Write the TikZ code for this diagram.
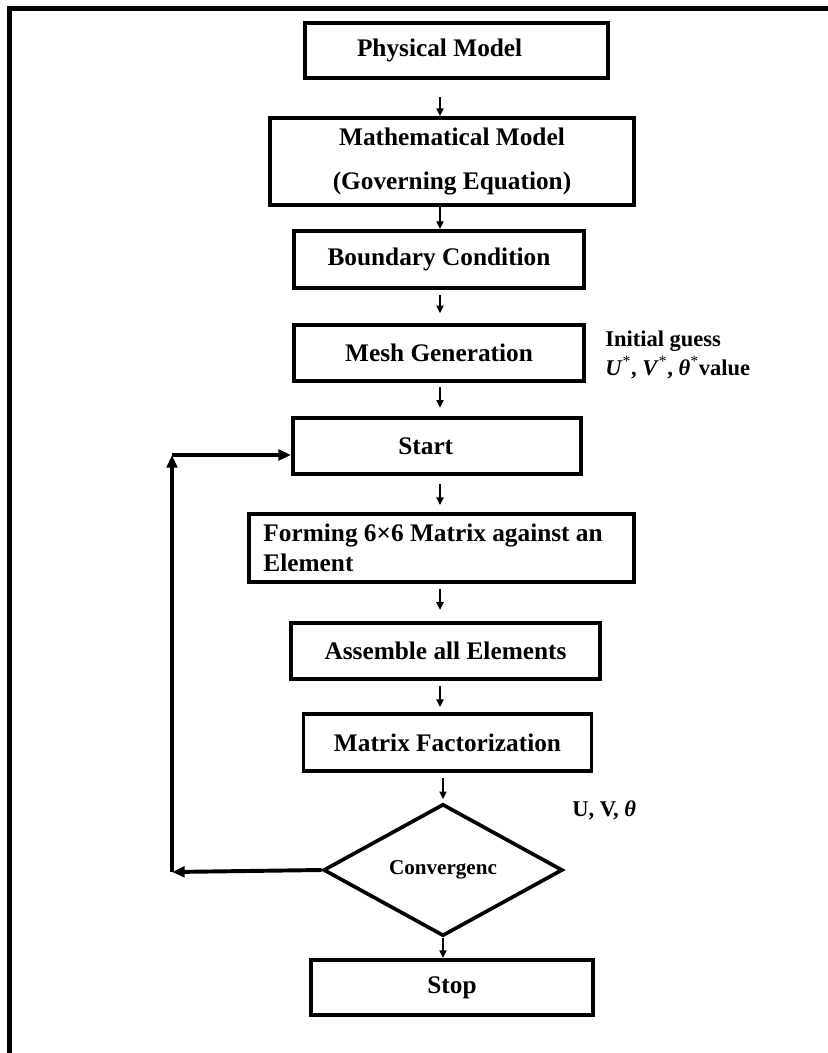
\documentclass[tikz,border=0pt]{standalone}
\usepackage{fontspec}
\setmainfont{Liberation Serif}
\usepackage{tikz}
\usetikzlibrary{arrows.meta,shapes.geometric,positioning}

\begin{document}
\begin{tikzpicture}[x=0.025cm,y=-0.025cm,
  box/.style={draw,line width=2.6pt,inner sep=2pt,font=\bfseries\fontsize{18}{21}\selectfont},
  link/.style={-{Triangle[length=5.5pt,width=5pt]},line width=1.3pt},
  loopline/.style={-{Triangle[length=9pt,width=7.5pt]},line width=2.8pt}]
  \useasboundingbox (0,0) rectangle (828,1053);
  \draw[line width=3.6pt] (9.5,1053) |- (828,8.5);
  \node[box,minimum width=7.58cm,minimum height=1.38cm] (phys) at (456.5,50.5) {Physical Model\hspace*{24pt}};
  \node[box,minimum width=9.1cm,minimum height=2.18cm,align=center] (math) at (452,161.5) {Mathematical Model\\[10pt](Governing Equation)};
  \node[box,minimum width=7.25cm,minimum height=1.43cm] (bound) at (439,259.5) {Boundary Condition};
  \node[box,minimum width=7.25cm,minimum height=1.4cm] (mesh) at (439,353) {Mesh Generation};
  \node[box,minimum width=7.2cm,minimum height=1.4cm] (start) at (437,446) {Start\hspace*{16pt}};
  \node[box,minimum width=9.63cm,minimum height=1.7cm,text width=8.9cm,align=flush left] (form) at (441.5,548) {Forming 6×6 Matrix against an\\Element};
  \node[box,minimum width=7.73cm,minimum height=1.4cm] (assem) at (445.5,651) {Assemble all Elements};
  \node[box,minimum width=7.2cm,minimum height=1.43cm] (fact) at (447.5,742.5) {Matrix Factorization};
  \node[diamond,draw,line width=2.6pt,minimum width=5.98cm,minimum height=3.28cm,inner sep=1pt,font=\bfseries\fontsize{15}{17}\selectfont] (conv) at (443,870) {Convergenc};
  \node[box,minimum width=7.05cm,minimum height=1.38cm] (stop) at (452,987.5) {Stop};
  \node[anchor=north west,align=left,inner sep=0pt,font=\bfseries\fontsize{16}{20.5}\selectfont] (guess) at (605,331) {Initial guess\\\textit{U}\textsuperscript{\mdseries *}, \textit{V}\textsuperscript{\mdseries *}, \textit{θ}\textsuperscript{\mdseries *}value};
  \node[anchor=west,inner sep=0pt,font=\bfseries\fontsize{16}{20}\selectfont] (uvt) at (572,810) {U, V, \textit{θ}};

  \coordinate (spine) at (440,0);
  \draw[link,shorten <=12pt] (phys.south -| spine) -- (math.north -| spine);
  \draw[link] (math.south -| spine) -- (bound.north -| spine);
  \draw[link,shorten <=3.5pt,shorten >=7pt] (bound.south -| spine) -- (mesh.north -| spine);
  \draw[link,shorten <=3pt,shorten >=6pt] (mesh.south -| spine) -- (start.north -| spine);
  \draw[link,shorten <=5.5pt,shorten >=5pt] (start.south -| spine) -- (form.north -| spine);
  \draw[link,shorten <=4pt,shorten >=8pt] (form.south -| spine) -- (assem.north -| spine);
  \draw[link,shorten <=4pt,shorten >=3.5pt] (assem.south -| spine) -- (fact.north -| spine);
  \draw[link,shorten <=3.5pt,shorten >=2pt] (fact.south -| conv) -- (conv.north);
  \draw[link] (conv.south) -- (stop.north -| conv);

  % loop back to start
  \coordinate (lb) at (172,872);
  \coordinate (lt) at (172,455);
  \draw[loopline] (conv.west) -- (lb);
  \draw[loopline] (lb) -- (lt);
  \draw[loopline] (lt) -- (lt -| start.west);
\end{tikzpicture}
\end{document}
